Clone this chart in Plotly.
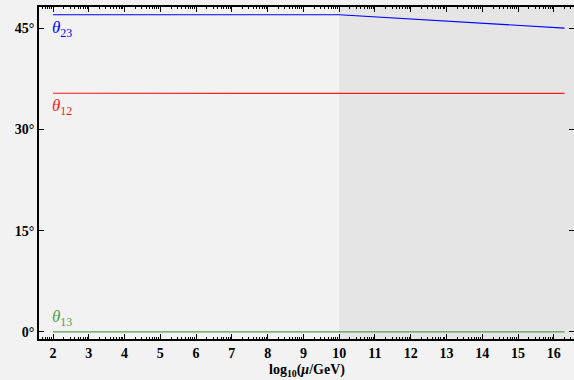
import math
import plotly.graph_objects as go

# ---- data ----
log_mu = [2, 10, 16.3]
theta23 = [47.02, 47.02, 45.04]
theta12 = [35.38, 35.38, 35.36]
theta13 = [0.02, 0.02, 0.02]
series_names = ["<i>θ</i><sub>23</sub>", "<i>θ</i><sub>12</sub>", "<i>θ</i><sub>13</sub>"]
series_colors = ["#0000ff", "#ff1a1a", "#4ca04c"]
x_ticks = list(range(2, 17))
y_ticks = [0, 15, 30, 45]
y_ticktext = [f"{v}°" for v in y_ticks]
shade_start = 10
x_range = [1.608, 16.565]
y_range = [-1.05, 48.17]

minor_vals = [n + math.log10(k) for n in range(1, 17) for k in range(2, 10)]
minor_vals = [v for v in minor_vals if x_range[0] < v < x_range[1]]

FONT = "Liberation Serif"
TICKFONT = dict(family=FONT, size=14, color="black", weight="bold")

fig = go.Figure()
for ys, name, col in zip([theta23, theta12, theta13], series_names, series_colors):
    fig.add_trace(go.Scatter(x=log_mu, y=ys, mode="lines", name=name,
                             line=dict(color=col, width=1.2), showlegend=False))
    fig.add_annotation(x=log_mu[0], y=ys[0], text=name, showarrow=False,
                       xanchor="left", yanchor="top" if ys[0] > 1 else "bottom",
                       xshift=-3, yshift=-1 if ys[0] > 1 else 1,
                       font=dict(family=FONT, size=17, color=col))

fig.add_vrect(x0=shade_start, x1=x_range[1], fillcolor="#e5e5e5", line_width=0, layer="below")

# x-axis title
fig.add_annotation(x=0.5, y=0, xref="paper", yref="paper", yanchor="top",
                   text="log<sub>10</sub>(<i>μ</i>/GeV)", showarrow=False, yshift=-21,
                   font=TICKFONT)

fig.update_layout(
    width=574, height=380,
    margin=dict(l=39, r=0, t=7, b=41),
    paper_bgcolor="#f2f2f2", plot_bgcolor="#f2f2f2",
    font=dict(family=FONT, size=14, color="black"),
    xaxis=dict(range=x_range, tickmode="array", tickvals=x_ticks, automargin=False,
               ticks="inside", ticklen=5, tickwidth=1, tickcolor="black",
               tickfont=TICKFONT,
               showline=True, linecolor="black", linewidth=1.5, mirror="allticks",
               showgrid=False, zeroline=False,
               minor=dict(tickmode="array", tickvals=minor_vals, ticks="inside",
                          ticklen=2.5, tickcolor="black", tickwidth=1, showgrid=False)),
    yaxis=dict(range=y_range, tickmode="array", tickvals=y_ticks, ticktext=y_ticktext,
               automargin=False,
               ticks="inside", ticklen=5, tickwidth=1, tickcolor="black",
               tickfont=TICKFONT,
               showline=True, linecolor="black", linewidth=1.5, mirror="ticks",
               showgrid=False, zeroline=False),
)

fig.write_html("out.html", config={"displayModeBar": False},
               post_script="document.body.style.margin='0';document.body.style.background='#f2f2f2';")
